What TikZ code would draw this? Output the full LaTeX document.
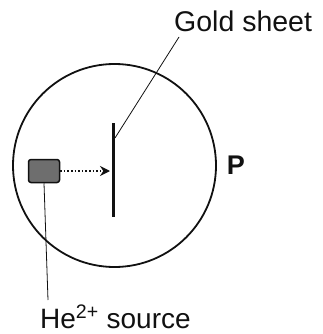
\documentclass[tikz,border=0pt]{standalone}
\usepackage{fontspec}
\setmainfont{Liberation Sans}
\usetikzlibrary{arrows.meta,positioning,calc}
\definecolor{figink}{HTML}{111111}
\definecolor{figgrey}{HTML}{6E6E6E}

\begin{document}
\begin{tikzpicture}[x=1pt,y=-1pt]
\useasboundingbox (0,0) rectangle (322,334);

% chamber
\node[circle, draw=figink, line width=1.8pt, minimum size=203pt, inner sep=0pt] (chamber) at (114.5,165.5) {};
\node[text=figink, font=\fontsize{27}{30}\selectfont\bfseries] (plabel) at (236,165) {P};

% gold sheet
\coordinate (sheettop) at (113,123);
\coordinate (sheetbot) at (113,217);
\draw[figink, line width=3pt] (sheettop) -- (sheetbot);

% source and beam
\node[draw=figink, fill=figgrey, rounded corners=2.5pt, line width=1.5pt, minimum width=31pt, minimum height=23pt, inner sep=0pt] (source) at (44,171) {};
\coordinate (hit) at (110,171);
\draw[figink, line width=1.6pt, dotted, -{Stealth[length=10pt,width=10pt]}] (source.east) -- (hit);

% labels
\node[text=figink, font=\fontsize{28.5}{32}\selectfont, anchor=base west, inner sep=0pt] (goldlabel) at (174,32) {Gold sheet};
\coordinate (sheetpt) at (115,138);
\coordinate (goldtip) at (179,37);
\draw[figink, line width=0.8pt] (sheetpt) -- (goldtip);

\node[text=figink, font=\fontsize{28}{32}\selectfont, anchor=base west, inner sep=0pt] (srclabel) at (40,328) {He\textsuperscript{2+} source};
\coordinate (srctip) at (48,300);
\draw[figink, line width=0.8pt] (source.south) -- (srctip);
\end{tikzpicture}
\end{document}
